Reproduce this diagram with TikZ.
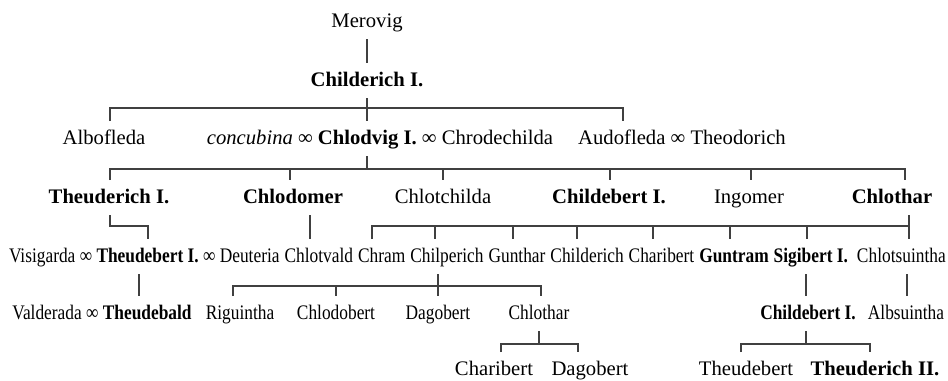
\documentclass[tikz,border=0pt]{standalone}
\usepackage{fontspec}
\setmainfont{Liberation Serif}
\newfontfamily\narrowfont[FakeStretch=0.84]{Liberation Serif}
\usetikzlibrary{positioning}
\tikzset{
  person/.style={anchor=base, inner sep=0pt, outer sep=0pt,
    text height=17.25pt, text depth=9pt, font=\fontsize{15.5}{18}\selectfont},
  narrowperson/.style={person, font=\fontsize{15.5}{18}\selectfont\narrowfont},
  tie/.style={line width=0.9pt, black!75},
}

\begin{document}
\begin{tikzpicture}[x=0.75pt, y=-0.75pt, node distance=3.75pt]
  \useasboundingbox (0,0) rectangle (948,380);

  % Merovig and Childerich
  \node[person] (mv) at (367,27) {Merovig};
  \node[person] (c1) at (367,86) {\textbf{Childerich I.}};

  % Children of Childerich
  \node[person] (al) at (104,144) {Albofleda};
  \node[person] (cv) at (380,144) {\textit{concubina} ∞ \textbf{Chlodvig I.} ∞ Chrodechilda};
  \node[person] (au) at (682,144) {Audofleda ∞ Theodorich};

  % Children of Chlodvig
  \node[person] (t1) at (109,203) {\textbf{Theuderich I.}};
  \node[person] (cd) at (293,203) {\textbf{Chlodomer}};
  \node[person] (ct) at (443,203) {Chlotchilda};
  \node[person] (cb) at (609,203) {\textbf{Childebert I.}};
  \node[person] (ig) at (749,203) {Ingomer};
  \node[person] (cl) at (892,203) {\textbf{Chlothar}};

  % Grandchildren
  \node[narrowperson, anchor=base west] (tb) at (9,262) {Visigarda ∞ \textbf{Theudebert I.} ∞ Deuteria};
  \node[narrowperson, right=of tb] (cw) {Chlotvald};
  \node[narrowperson, right=of cw] (cr) {Chram};
  \node[narrowperson, right=of cr] (cp) {Chilperich};
  \node[narrowperson, right=of cp] (gu) {Gunthar};
  \node[narrowperson, right=of gu] (ce) {Childerich};
  \node[narrowperson, right=of ce] (cc) {Charibert};
  \node[narrowperson, right=of cc] (gt) {\textbf{Guntram}};
  \node[narrowperson, right=of gt] (sg) {\textbf{Sigibert I.}};
  \node[narrowperson, right=6.75pt of sg] (cs) {Chlotsuintha};

  \node[narrowperson] (td) at (102,319) {Valderada ∞ \textbf{Theudebald}};
  \node[narrowperson] (rg) at (240,319) {Riguintha};
  \node[narrowperson] (co) at (336,319) {Chlodobert};
  \node[narrowperson] (dg) at (438,319) {Dagobert};
  \node[narrowperson] (ch) at (539,319) {Chlothar};
  \node[narrowperson] (cf) at (808,319) {\textbf{Childebert I.}};
  \node[narrowperson] (ab) at (906,319) {Albsuintha};

  \node[person] (cb2) at (494,375) {Charibert};
  \node[person] (dg2) at (590,375) {Dagobert};
  \node[person] (tb2) at (746,375) {Theudebert};
  \node[person] (tr) at (875,375) {\textbf{Theuderich II.}};

  % Lines
  \draw[tie] (mv.south) -- (c1.north);
  \draw[tie] (c1.south) -- (c1.south |- cv.north);
  \draw[tie] (al.north -| 110,0) |- (623,108) -- (au.north -| 623,0);

  \draw[tie] (cv.south -| c1.south) -- (367,169);
  \draw[tie] (t1.north -| 110,0) |- (905,169) -- (cl.north -| 905,0);
  \foreach \x/\n in {290/cd, 443/ct, 610/cb, 751/ig}
    \draw[tie] (\x,169) -- (\n.north -| \x,0);

  \draw[tie] (t1.south -| 110,0) |- (148,226) -- (tb.north -| 148,0);
  \draw[tie] (cd.south -| 310,0) -- (cw.north -| 310,0);
  \draw[tie] (cl.south -| 909,0) -- (cs.north -| 909,0);
  \draw[tie] (cr.north -| 372,0) |- (909,226);
  \foreach \x/\n in {435/cp, 513/gu, 577/ce, 653/cc, 730/gt, 807/sg}
    \draw[tie] (\x,226) -- (\n.north -| \x,0);

  \draw[tie] (tb.south -| 139,0) -- (td.north -| 139,0);
  \draw[tie] (cp.south -| 438,0) -- (dg.north -| 438,0);
  \draw[tie] (rg.north -| 233,0) |- (541,286) -- (ch.north -| 541,0);
  \draw[tie] (336,286) -- (co.north -| 336,0);
  \draw[tie] (sg.south -| 806,0) -- (cf.north -| 806,0);
  \draw[tie] (cs.south -| 907,0) -- (ab.north -| 907,0);

  \draw[tie] (ch.south -| 539,0) -- (539,344);
  \draw[tie] (cb2.north -| 501,0) |- (578,344) -- (dg2.north -| 578,0);
  \draw[tie] (cf.south -| 806,0) -- (806,344);
  \draw[tie] (tb2.north -| 741,0) |- (870,344) -- (tr.north -| 870,0);
\end{tikzpicture}
\end{document}
